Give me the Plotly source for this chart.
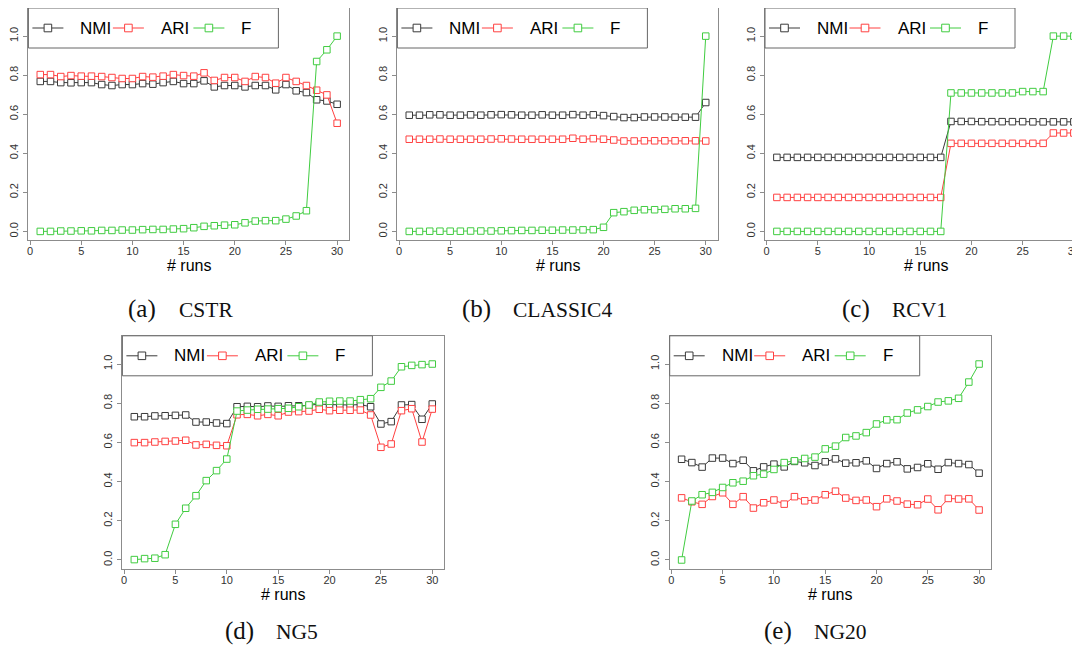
import plotly.graph_objects as go

# ---------------- data ----------------
runs = list(range(1, 31))
series_names = ["NMI", "ARI", "F"]
series_colors = ["#3a3a3a", "#ff4040", "#40cc40"]
panel_labels = ["(a)", "(b)", "(c)", "(d)", "(e)"]
dataset_names = ["CSTR", "CLASSIC4", "RCV1", "NG5", "NG20"]
x_ticks = [0, 5, 10, 15, 20, 25, 30]
y_ticks = [0.0, 0.2, 0.4, 0.6, 0.8, 1.0]
x_title = "# runs"

cstr_nmi = [0.768, 0.768, 0.762, 0.761, 0.762, 0.762, 0.752, 0.747, 0.752, 0.752,
            0.757, 0.754, 0.762, 0.768, 0.757, 0.757, 0.771, 0.740, 0.747, 0.747,
            0.740, 0.747, 0.747, 0.725, 0.752, 0.720, 0.711, 0.674, 0.668, 0.651]
cstr_ari = [0.803, 0.803, 0.793, 0.798, 0.795, 0.795, 0.793, 0.788, 0.783, 0.783,
            0.793, 0.790, 0.795, 0.803, 0.798, 0.795, 0.812, 0.773, 0.788, 0.788,
            0.768, 0.793, 0.788, 0.759, 0.788, 0.768, 0.747, 0.723, 0.699, 0.554]
cstr_f = [0.000, 0.000, 0.002, 0.002, 0.003, 0.003, 0.005, 0.005, 0.007, 0.007,
          0.009, 0.010, 0.010, 0.012, 0.014, 0.019, 0.026, 0.029, 0.032, 0.034,
          0.044, 0.053, 0.055, 0.055, 0.063, 0.079, 0.106, 0.870, 0.930, 1.000]

classic4_nmi = [0.595, 0.595, 0.597, 0.597, 0.595, 0.595, 0.597, 0.595, 0.597, 0.598,
                0.597, 0.595, 0.595, 0.597, 0.595, 0.595, 0.598, 0.595, 0.597, 0.593,
                0.588, 0.583, 0.583, 0.586, 0.586, 0.586, 0.585, 0.585, 0.585, 0.660]
classic4_ari = [0.472, 0.472, 0.472, 0.473, 0.472, 0.472, 0.472, 0.472, 0.473, 0.474,
                0.473, 0.472, 0.472, 0.472, 0.472, 0.472, 0.477, 0.472, 0.475, 0.472,
                0.468, 0.463, 0.463, 0.464, 0.464, 0.464, 0.464, 0.464, 0.464, 0.463]
classic4_f = [0.000, 0.000, 0.001, 0.001, 0.001, 0.001, 0.002, 0.002, 0.002, 0.003,
              0.004, 0.005, 0.005, 0.006, 0.006, 0.007, 0.007, 0.008, 0.009, 0.021,
              0.096, 0.101, 0.108, 0.111, 0.111, 0.113, 0.116, 0.116, 0.118, 1.000]

rcv1_nmi = [0.379, 0.379, 0.379, 0.379, 0.379, 0.379, 0.379, 0.379, 0.379, 0.379,
            0.379, 0.379, 0.379, 0.379, 0.379, 0.379, 0.379, 0.563, 0.563, 0.563,
            0.562, 0.562, 0.562, 0.562, 0.562, 0.561, 0.561, 0.561, 0.561, 0.561]
rcv1_ari = [0.174, 0.174, 0.174, 0.174, 0.174, 0.174, 0.174, 0.174, 0.174, 0.174,
            0.174, 0.174, 0.174, 0.174, 0.174, 0.174, 0.174, 0.451, 0.451, 0.451,
            0.451, 0.451, 0.451, 0.451, 0.451, 0.451, 0.451, 0.504, 0.504, 0.504]
rcv1_f = [0.000, 0.000, 0.000, 0.000, 0.000, 0.000, 0.000, 0.000, 0.000, 0.000,
          0.000, 0.000, 0.000, 0.000, 0.000, 0.000, 0.000, 0.709, 0.709, 0.709,
          0.709, 0.709, 0.709, 0.709, 0.716, 0.716, 0.716, 1.000, 1.000, 1.000]

ng5_nmi = [0.731, 0.731, 0.735, 0.736, 0.738, 0.740, 0.704, 0.704, 0.699, 0.696,
           0.782, 0.784, 0.782, 0.786, 0.784, 0.787, 0.787, 0.789, 0.796, 0.793,
           0.791, 0.791, 0.793, 0.782, 0.694, 0.706, 0.791, 0.793, 0.718, 0.796]
ng5_ari = [0.599, 0.599, 0.602, 0.605, 0.607, 0.611, 0.587, 0.590, 0.585, 0.583,
           0.741, 0.743, 0.736, 0.743, 0.736, 0.755, 0.757, 0.760, 0.769, 0.762,
           0.764, 0.764, 0.765, 0.740, 0.575, 0.592, 0.762, 0.772, 0.602, 0.770]
ng5_f = [0.002, 0.007, 0.009, 0.027, 0.182, 0.264, 0.328, 0.405, 0.456, 0.515,
         0.760, 0.765, 0.769, 0.770, 0.772, 0.774, 0.782, 0.791, 0.806, 0.810,
         0.811, 0.811, 0.818, 0.823, 0.881, 0.913, 0.986, 0.993, 0.997, 1.000]

ng20_nmi = [0.514, 0.497, 0.474, 0.520, 0.520, 0.492, 0.509, 0.455, 0.475, 0.489,
            0.475, 0.503, 0.496, 0.482, 0.501, 0.516, 0.494, 0.496, 0.506, 0.467,
            0.492, 0.501, 0.465, 0.472, 0.491, 0.463, 0.497, 0.492, 0.487, 0.443]
ng20_ari = [0.317, 0.297, 0.284, 0.324, 0.343, 0.284, 0.323, 0.265, 0.292, 0.306,
            0.285, 0.323, 0.302, 0.306, 0.333, 0.351, 0.316, 0.304, 0.306, 0.272,
            0.312, 0.301, 0.285, 0.282, 0.311, 0.256, 0.314, 0.311, 0.312, 0.255]
ng20_f = [0.000, 0.301, 0.333, 0.345, 0.370, 0.394, 0.402, 0.430, 0.438, 0.462,
          0.497, 0.506, 0.518, 0.525, 0.567, 0.581, 0.625, 0.633, 0.650, 0.694,
          0.715, 0.716, 0.750, 0.766, 0.783, 0.806, 0.812, 0.825, 0.908, 1.000]

panels_data = [
    [cstr_nmi, cstr_ari, cstr_f],
    [classic4_nmi, classic4_ari, classic4_f],
    [rcv1_nmi, rcv1_ari, rcv1_f],
    [ng5_nmi, ng5_ari, ng5_f],
    [ng20_nmi, ng20_ari, ng20_f],
]

# ---------------- layout geometry ----------------
# The page body has an 8px margin, so the figure is 8px smaller on each
# axis and all page-pixel positions below are shifted by OFF.
OFF = 8
W, H = 1080 - OFF, 650 - OFF


def fx(p):
    return (p - OFF) / W


def fy(p):
    return 1 - (p - OFF) / H


# box left, box right, box top, box bottom, x range max (page pixels)
boxes = [
    (28.4, 349.0, 8.0, 240.0, 31.16),
    (397.4, 717.6, 8.0, 240.0, 31.16),
    (765.0, 1080.0, 8.0, 240.0, 30.6),
    (122.4, 444.2, 335.8, 568.6, 31.16),
    (669.7, 991.0, 335.8, 568.6, 31.16),
]
title_cx = [188.7, 557.5, 925.5, 283.3, 830.35]
caption_pos = [  # right edge of "(x)", left edge of name, y center
    (158.3, 176.7, 309),
    (493.0, 511.0, 309),
    (872.0, 890.0, 309),
    (256.0, 274.0, 631),
    (794.0, 812.0, 631),
]

AX = "#8c8c8c"
FONT = "Liberation Sans, Arial, sans-serif"

fig = go.Figure()
layout = dict(
    width=W, height=H,
    margin=dict(l=0, r=0, t=0, b=0),
    paper_bgcolor="white", plot_bgcolor="white",
    showlegend=False,
)
shapes = []
annotations = []

for i, (L, R, T, B, xmax) in enumerate(boxes):
    n = "" if i == 0 else str(i + 1)
    for s, vals in enumerate(panels_data[i]):
        c = series_colors[s]
        fig.add_trace(go.Scatter(
            x=runs, y=vals, mode="lines+markers", name=series_names[s],
            line=dict(color=c, width=1),
            marker=dict(symbol="square", size=6.5, color="white",
                        line=dict(color=c, width=1)),
            xaxis="x" + n, yaxis="y" + n, showlegend=False,
            cliponaxis=False,
        ))
    layout["xaxis" + n] = dict(
        domain=[fx(L), fx(R)], range=[-0.16, xmax], anchor="y" + n,
        tickvals=x_ticks, ticks="outside", ticklen=4, tickcolor=AX,
        showline=True, linecolor=AX, linewidth=1, mirror=True,
        showgrid=False, zeroline=False, automargin=False,
        ticklabelstandoff=-3,
        tickfont=dict(family=FONT, size=11, color="#333"),
    )
    layout["yaxis" + n] = dict(
        domain=[fy(B), fy(T)], range=[-0.044, 1.144], anchor="x" + n,
        tickvals=y_ticks, tickformat=".1f", tickangle=-90,
        ticks="outside", ticklen=4, tickcolor=AX,
        showline=True, linecolor=AX, linewidth=1, mirror=(i != 2),
        showgrid=False, zeroline=False, automargin=False,
        ticklabelstandoff=1,
        tickfont=dict(family=FONT, size=11, color="#333"),
    )
    # x-axis title
    annotations.append(dict(
        x=fx(title_cx[i]), y=fy(B + 26), xref="paper", yref="paper",
        text=x_title, showarrow=False, xanchor="center", yanchor="middle",
        font=dict(family=FONT, size=16, color="black"),
    ))
    # legend box
    shapes.append(dict(type="rect", xref="paper", yref="paper",
                       x0=fx(L), x1=fx(L + 250), y0=fy(T + 40), y1=fy(T),
                       line=dict(color="#666", width=1), fillcolor="white",
                       layer="above"))
    cy = T + 20
    for s in range(3):
        c = series_colors[s]
        x0 = L + 4 + 80.5 * s
        shapes.append(dict(type="line", xref="paper", yref="paper",
                           x0=fx(x0), x1=fx(x0 + 31), y0=fy(cy), y1=fy(cy),
                           line=dict(color=c, width=1), layer="above"))
        mx = x0 + 15.5
        shapes.append(dict(type="rect", xref="paper", yref="paper",
                           x0=fx(mx - 3.8), x1=fx(mx + 3.8),
                           y0=fy(cy + 3.8), y1=fy(cy - 3.8),
                           line=dict(color=c, width=1), fillcolor="white",
                           layer="above"))
        annotations.append(dict(
            x=fx(L + 50 + 80.5 * s), y=fy(cy), xref="paper", yref="paper",
            text=series_names[s], showarrow=False, xanchor="left",
            yanchor="middle", font=dict(family=FONT, size=17, color="black"),
        ))
    # caption
    pr, nl, ycap = caption_pos[i]
    annotations.append(dict(
        x=fx(pr), y=fy(ycap), xref="paper", yref="paper",
        text=panel_labels[i], showarrow=False, xanchor="right", yanchor="middle",
        font=dict(family="Liberation Serif, Times New Roman, serif", size=25,
                  color="#111"),
    ))
    annotations.append(dict(
        x=fx(nl), y=fy(ycap + 1), xref="paper", yref="paper",
        text=dataset_names[i], showarrow=False, xanchor="left", yanchor="middle",
        font=dict(family="Liberation Serif, Times New Roman, serif", size=21.5,
                  color="#111"),
    ))

layout["shapes"] = shapes
layout["annotations"] = annotations
fig.update_layout(**layout)
fig.write_html("out.html")
